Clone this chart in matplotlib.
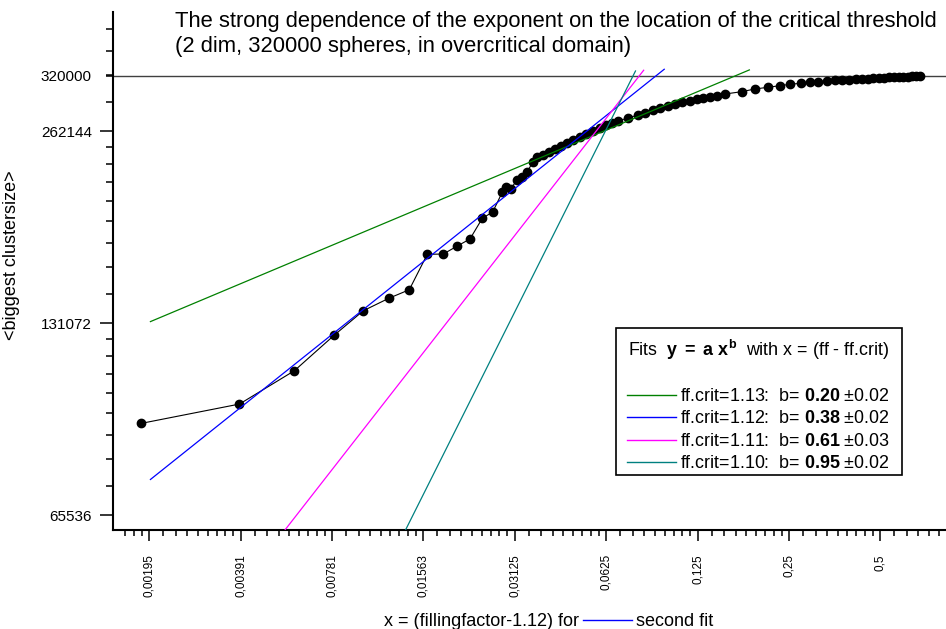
import matplotlib
matplotlib.use("Agg")
import matplotlib.pyplot as plt
from matplotlib.lines import Line2D
from matplotlib.patches import Rectangle
from matplotlib.ticker import NullFormatter
import numpy as np

plt.rcParams['font.family'] = ['Liberation Sans', 'DejaVu Sans']
plt.rcParams['mathtext.fontset'] = 'custom'
plt.rcParams['mathtext.rm'] = 'Liberation Sans'
plt.rcParams['mathtext.bf'] = 'Liberation Sans:bold'
plt.rcParams['mathtext.it'] = 'Liberation Sans:italic'

# x = fillingfactor - 1.12
x_vals = [0.00184, 0.00387, 0.00587, 0.00793, 0.00990, 0.01200, 0.01403, 0.01608,
          0.01816, 0.02019, 0.02223, 0.02441, 0.02641, 0.02840, 0.02921, 0.03034,
          0.03175, 0.03298, 0.03425, 0.03585, 0.03696, 0.03868, 0.04048, 0.04236,
          0.04433, 0.04639, 0.04855, 0.05120, 0.05358, 0.05651, 0.05959, 0.06236,
          0.06526, 0.06830, 0.07368, 0.07949, 0.08382, 0.08906, 0.09391, 0.09979,
          0.1052, 0.1110, 0.1179, 0.1243, 0.1301, 0.1372, 0.1447, 0.1538,
          0.1745, 0.193, 0.213, 0.233, 0.252, 0.273, 0.293, 0.312, 0.333, 0.354,
          0.374, 0.394, 0.414, 0.434, 0.454, 0.474, 0.494, 0.514, 0.534, 0.554,
          0.574, 0.594, 0.614, 0.634, 0.654, 0.674]
# <biggest clustersize>
cluster = [91260, 97840, 110350, 125380, 137020, 143290, 147810, 167970,
           168150, 173080, 177510, 191290, 195700, 210120, 213960, 213000,
           219640, 222040, 226100, 234400, 238680, 240390, 243000, 245630,
           248320, 251020, 253760, 256520, 259330, 262140, 264990, 267880,
           269820, 271790, 274750, 277740, 279760, 282800, 284870, 286920,
           288990, 291090, 292130, 294260, 295310, 296380, 297460, 299600,
           302120, 305090, 306950, 308730, 310300, 311400, 312530, 313240, 314020, 314810,
           315200, 315600, 316000, 316400, 316800, 317100, 317400, 317700, 318000, 318300,
           318600, 318800, 319000, 319200, 319400, 319600]

# power law fits y = a x^b
fit_crit = ['1.13', '1.12', '1.11', '1.10']
fit_b = [0.20, 0.38, 0.61, 0.95]
fit_b_txt = ['0.20', '0.38', '0.61', '0.95']
fit_err = ['0.02', '0.02', '0.03', '0.02']
fit_a = [458000, 795000, 1490000, 3674000]
fit_x0 = [0.00197, 0.00197, 0.0035, 0.009]
fit_x1 = [0.185, 0.097, 0.083, 0.078]
fit_colors = ['#008000', '#0000ff', '#ff00ff', '#008080']

n_spheres = 320000
x_ticks = [2.0 ** -n for n in range(9, 0, -1)]
x_ticklabels = ['0,00195', '0,00391', '0,00781', '0,01563', '0,03125',
                '0,0625', '0,125', '0,25', '0,5']
y_ticks = [65536, 131072, 262144, 320000]
y_ticklabels = ['65536', '131072', '262144', '320000']

W, H = 946, 629
xlo, xhi = 2 ** -9.397, 2 ** -0.283
ylo, yhi = 62100, 402800


def fx(px):
    return px / W


def fy(py):
    return 1 - py / H


fig = plt.figure(figsize=(9.46, 6.29), dpi=100)
ax = fig.add_axes([fx(113), fy(530), 1 - fx(113), (530 - 12) / H])
ax.set_xscale('log', base=2)
ax.set_yscale('log', base=2)

for s in ['top', 'right']:
    ax.spines[s].set_visible(False)
for s in ['left', 'bottom']:
    ax.spines[s].set_linewidth(1.5)

ax.axhline(n_spheres, color='#404040', lw=1.0, zorder=1)

ax.plot(x_vals, cluster, '-', color='black', lw=0.8, marker='o', ms=6,
        mfc='black', mec='black', zorder=3)

for a, b, x0, x1, c in zip(fit_a, fit_b, fit_x0, fit_x1, fit_colors):
    xs = np.array([x0, x1])
    ax.plot(xs, a * xs ** b, color=c, lw=0.9, zorder=4)

# ticks
minor_x = [2.0 ** n * (1 + k / 9) for n in range(-10, 0) for k in range(1, 9)]
minor_x = [v for v in minor_x if 2 ** -9.3 < v < xhi]
minor_y = [2.0 ** n * (1 + k / 9) for n in range(15, 19) for k in range(1, 9)]
minor_y = [v for v in minor_y if ylo < v < yhi]
ax.set_xticks(x_ticks, x_ticklabels, rotation=90, fontsize=8.5)
ax.set_xticks(minor_x, minor=True)
ax.xaxis.set_minor_formatter(NullFormatter())
ax.set_yticks(y_ticks, y_ticklabels, fontsize=11)
ax.set_yticks(minor_y, minor=True)
ax.yaxis.set_minor_formatter(NullFormatter())
ax.tick_params(axis='x', which='major', length=8, width=1.1, pad=9.4)
ax.tick_params(axis='x', which='minor', length=4.3, width=1.1)
ax.tick_params(axis='y', which='major', length=9.4, width=1.1, pad=5.8)
ax.tick_params(axis='y', which='minor', length=5, width=1.1)
ax.yaxis.get_major_ticks()[3].tick1line.set_markersize(5)
ax.set_xlim(xlo, xhi)
ax.set_ylim(ylo, yhi)

# title
fig.text(fx(175), fy(27), 'The strong dependence of the exponent on the location of the critical threshold',
         fontsize=15.85, va='baseline', ha='left')
fig.text(fx(175), fy(52), '(2 dim, 320000 spheres, in overcritical domain)',
         fontsize=15.85, va='baseline', ha='left')

# axis labels
fig.text(fx(12), fy(255), '<biggest clustersize>', rotation=90, fontsize=13,
         ha='center', va='center')
fig.text(fx(579), fy(626), 'x = (fillingfactor-1.12) for', fontsize=13,
         ha='right', va='baseline')
fig.add_artist(Line2D([fx(583), fx(632)], [fy(620), fy(620)], color='#0000ff', lw=1.0))
fig.text(fx(636), fy(626), 'second fit', fontsize=13, ha='left', va='baseline')

# legend box
fig.add_artist(Rectangle((fx(615.7), fy(475)), fx(901.7) - fx(615.7), fy(327.7) - fy(475),
                         facecolor='white', edgecolor='black', lw=1.2, zorder=5))
fig.text(fx(627.7), fy(356.5), r'Fits  $\mathbf{y\ =\ a\ x^{b}}$  with x = (ff - ff.crit)',
         fontsize=12.9, ha='left', va='baseline', zorder=6)
for i, (crit, bt, err, c) in enumerate(zip(fit_crit, fit_b_txt, fit_err, fit_colors)):
    ly = 395 + 22.4 * i
    fig.add_artist(Line2D([fx(627.3), fx(675.7)], [fy(ly), fy(ly)], color=c, lw=1.0, zorder=6))
    fig.text(fx(680.3), fy(401 + 22.4 * i),
             'ff.crit=' + crit + ':  b= $\\mathbf{' + bt + '}$ \u00b1' + err,
             fontsize=12.9, ha='left', va='baseline', zorder=6)

fig.savefig('out.png', dpi=100)
